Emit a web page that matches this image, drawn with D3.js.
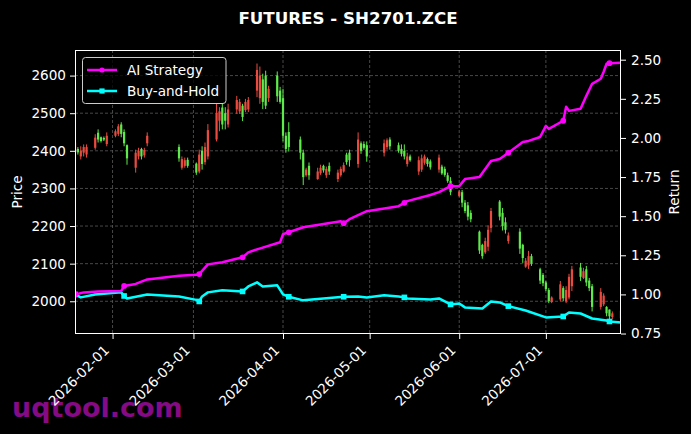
<!DOCTYPE html>
<html><head><meta charset="utf-8">
<script src="https://cdn.jsdelivr.net/npm/d3@7/dist/d3.min.js"></script>
<style>body{margin:0;background:#000;} svg{display:block;} text{font-family:"DejaVu Sans",sans-serif;}</style>
</head><body><svg id="c" width="691" height="434"></svg>
<script>
const chartTitle = "FUTURES - SH2701.ZCE";
const watermark = "uqtool.com";

// trading days (candles)
const tradeDates = [
"2026-01-19","2026-01-20","2026-01-21","2026-01-22","2026-01-23",
"2026-01-26","2026-01-27","2026-01-28","2026-01-29","2026-01-30",
"2026-02-02","2026-02-03","2026-02-04","2026-02-05","2026-02-06",
"2026-02-09","2026-02-10","2026-02-11","2026-02-12","2026-02-13",
"2026-02-24","2026-02-25","2026-02-26","2026-02-27",
"2026-03-02","2026-03-03","2026-03-04","2026-03-05","2026-03-06",
"2026-03-09","2026-03-10","2026-03-11","2026-03-12","2026-03-13",
"2026-03-16","2026-03-17","2026-03-18","2026-03-19","2026-03-20",
"2026-03-23","2026-03-24","2026-03-25","2026-03-26","2026-03-27",
"2026-03-30","2026-03-31","2026-04-01","2026-04-02","2026-04-03",
"2026-04-07","2026-04-08","2026-04-09","2026-04-10",
"2026-04-13","2026-04-14","2026-04-15","2026-04-16","2026-04-17",
"2026-04-20","2026-04-21","2026-04-22","2026-04-23","2026-04-24",
"2026-04-27","2026-04-28","2026-04-29","2026-04-30",
"2026-05-06","2026-05-07","2026-05-08",
"2026-05-11","2026-05-12","2026-05-13","2026-05-14","2026-05-15",
"2026-05-18","2026-05-19","2026-05-20","2026-05-21","2026-05-22",
"2026-05-25","2026-05-26","2026-05-27","2026-05-28","2026-05-29",
"2026-06-01","2026-06-02","2026-06-03","2026-06-04","2026-06-05",
"2026-06-08","2026-06-09","2026-06-10","2026-06-11","2026-06-12",
"2026-06-15","2026-06-16","2026-06-17","2026-06-18",
"2026-06-22","2026-06-23","2026-06-24","2026-06-25","2026-06-26",
"2026-06-29","2026-06-30","2026-07-01","2026-07-02","2026-07-03",
"2026-07-06","2026-07-07","2026-07-08","2026-07-09","2026-07-10",
"2026-07-13","2026-07-14","2026-07-15","2026-07-16","2026-07-17",
"2026-07-20","2026-07-21","2026-07-22","2026-07-23","2026-07-24",
"2026-07-27"];

const openP = [
2405,2405,2385,2395,2390, 2408,2448,2436,2434,2418, 2440,2445,2470,2450,2415,
2355,2385,2405,2388,2420, 2410,2355,2360,2376, 2366,2345,2400,2370,2385,
2430,2480,2515,2500,2470, 2510,2505,2520,2508,2510, 2560,2540,2590,2600,2540,
2600,2560,2540,2440,2450, 2430,2395,2335,2360, 2325,2340,2360,2335,2360,
2325,2335,2345,2390,2395, 2365,2420,2418,2415, 2395,2410,2430,
2415,2405,2400,2365,2385, 2345,2350,2368,2378,2372, 2350,2358,2352,2335,2320,
2280,2290,2262,2255,2235, 2185,2150,2130,2145,2195, 2265,2235,2210,2160,
2185,2150,2092,2095,2120, 2085,2070,2050,2030,1998, 2005,2035,2000,2010,2040,
2090,2062,2085,2055,2040, 1985,1992,1985,1978,1958, 1975];
const highP = [
2430,2410,2412,2417,2417, 2444,2457,2438,2438,2449, 2457,2471,2476,2457,2417,
2403,2408,2408,2408,2449, 2417,2385,2382,2382, 2369,2403,2412,2422,2471,
2525,2516,2525,2516,2525, 2546,2538,2525,2538,2543, 2632,2624,2605,2613,2573,
2611,2570,2565,2449,2476, 2438,2403,2355,2369, 2355,2363,2363,2358,2369,
2350,2358,2369,2395,2403, 2449,2425,2425,2425, 2430,2433,2436,
2422,2417,2417,2395,2390, 2385,2390,2390,2382,2377, 2390,2363,2358,2342,2330,
2296,2296,2269,2264,2242, 2188,2153,2169,2202,2248, 2269,2248,2223,2183,
2194,2153,2115,2134,2126, 2089,2075,2054,2035,2013, 2054,2040,2040,2073,2094,
2102,2089,2094,2062,2046, 2035,2021,1987,1978,1973, 1978];
const lowP = [
2398,2390,2377,2385,2382, 2403,2422,2422,2426,2412, 2436,2439,2436,2412,2363,
2342,2377,2377,2382,2412, 2371,2350,2355,2355, 2336,2340,2350,2363,2377,
2425,2452,2457,2457,2462, 2498,2498,2479,2503,2503, 2543,2525,2511,2511,2530,
2530,2525,2425,2395,2398, 2377,2309,2331,2323, 2323,2336,2342,2328,2336,
2317,2331,2342,2363,2358, 2355,2392,2403,2371, 2385,2403,2403,
2395,2385,2377,2358,2371, 2336,2344,2363,2358,2350, 2342,2336,2331,2315,2282,
2277,2250,2234,2215,2210, 2126,2113,2126,2134,2183, 2215,2188,2180,2153,
2126,2102,2089,2086,2094, 2046,2040,2027,1995,1995, 2000,2000,1995,2005,2027,
2054,2059,2040,2027,1973, 1978,1987,1960,1952,1952, 1946];
const closeP = [
2422,2396,2400,2410,2410, 2435,2430,2426,2430,2440, 2452,2465,2445,2420,2380,
2395,2400,2385,2402,2440, 2380,2378,2375,2360, 2342,2390,2365,2410,2455,
2500,2505,2470,2480,2510, 2535,2530,2490,2530,2535, 2615,2600,2530,2520,2565,
2545,2530,2440,2405,2410, 2395,2330,2350,2335, 2345,2355,2348,2352,2345,
2342,2352,2362,2370,2375, 2430,2400,2408,2385, 2420,2428,2412,
2400,2392,2385,2385,2375, 2375,2380,2385,2365,2356, 2382,2340,2336,2320,2290,
2292,2262,2240,2225,2218, 2135,2120,2160,2190,2240, 2225,2200,2190,2175,
2140,2115,2108,2120,2100, 2055,2048,2032,2000,2010, 2045,2008,2030,2065,2085,
2065,2080,2050,2035,1985, 2025,2015,1968,1960,1968, 1955];

// AI Strategy cumulative return
const aiDates = ["2026-01-19","2026-01-22","2026-01-27","2026-02-04","2026-02-05","2026-02-09","2026-02-13","2026-02-24",
"2026-03-02","2026-03-03","2026-03-06","2026-03-11","2026-03-18","2026-03-20","2026-03-23","2026-03-31","2026-04-01",
"2026-04-03","2026-04-08","2026-04-21","2026-04-22","2026-04-24","2026-04-30","2026-05-11","2026-05-13","2026-05-14",
"2026-05-22","2026-05-25","2026-05-29","2026-06-01","2026-06-03","2026-06-08","2026-06-12","2026-06-15","2026-06-18",
"2026-06-23","2026-06-25","2026-06-29","2026-07-01","2026-07-02","2026-07-07","2026-07-08","2026-07-09","2026-07-13",
"2026-07-15","2026-07-17","2026-07-20","2026-07-21","2026-07-22","2026-07-23","2026-07-27"];
const aiValues = [1.000,1.013,1.019,1.022,1.054,1.067,1.096,1.119,
1.125,1.130,1.192,1.205,1.237,1.269,1.288,1.333,1.385,
1.397,1.429,1.468,1.455,1.481,1.532,1.564,1.585,1.596,
1.635,1.654,1.692,1.692,1.737,1.750,1.853,1.865,1.905,
1.974,1.981,2.006,2.077,2.058,2.110,2.199,2.173,2.186,
2.269,2.346,2.378,2.423,2.474,2.478,2.481];

// Buy-and-Hold cumulative return
const bhDates = ["2026-01-19","2026-01-21","2026-01-26","2026-02-04","2026-02-05","2026-02-06","2026-02-13","2026-02-24",
"2026-03-02","2026-03-03","2026-03-04","2026-03-06","2026-03-11","2026-03-18","2026-03-20","2026-03-23","2026-03-25",
"2026-03-30","2026-04-01","2026-04-03","2026-04-08","2026-04-22","2026-04-27","2026-04-30","2026-05-06","2026-05-11",
"2026-05-13","2026-05-14","2026-05-22","2026-05-25","2026-05-29","2026-06-01","2026-06-03","2026-06-09","2026-06-12",
"2026-06-15","2026-06-18","2026-06-24","2026-06-25","2026-07-01","2026-07-07","2026-07-09","2026-07-13","2026-07-17",
"2026-07-22","2026-07-23","2026-07-27"];
const bhValues = [1.000,0.981,1.000,1.013,0.990,0.974,1.000,0.987,
0.965,0.955,0.987,1.013,1.026,1.019,1.051,1.077,1.051,
1.058,1.000,0.985,0.962,0.985,0.987,0.981,0.994,0.987,
0.981,0.974,0.968,0.974,0.936,0.942,0.917,0.910,0.955,
0.949,0.925,0.897,0.891,0.853,0.859,0.885,0.878,0.846,
0.833,0.827,0.821];

const markerDates = ["2026-01-19","2026-02-05","2026-03-03","2026-03-18","2026-04-03","2026-04-22","2026-05-13","2026-05-29","2026-06-18","2026-07-07","2026-07-23"];

const priceTicks = [2000,2100,2200,2300,2400,2500,2600];
const returnTicks = [0.75,1.00,1.25,1.50,1.75,2.00,2.25,2.50];
const dateTicks = ["2026-02-01","2026-03-01","2026-04-01","2026-05-01","2026-06-01","2026-07-01"];
const seriesNames = ["AI Strategy","Buy-and-Hold"];
const seriesColors = ["#ff00ff","#00ffff"];

// ---------- drawing ----------
const parse = d3.utcParse("%Y-%m-%d");
const L = 75, R = 621, T = 50, B = 334;
const svg = d3.select("#c");
svg.append("rect").attr("width",691).attr("height",434).attr("fill","#000");

const x = d3.scaleUtc().domain([parse("2026-01-19"), parse("2026-07-27")]).range([L,R]);
const yP = d3.scaleLinear().domain([1913,2668]).range([B,T]);
const yR = d3.scaleLinear().domain([0.747,2.562]).range([B,T]);

// watermark
svg.append("text").attr("x",12).attr("y",417).attr("fill","#850a85")
  .attr("font-size",27).attr("font-weight","bold").text(watermark);

// grid
const grid = svg.append("g");
grid.selectAll(".gx").data(dateTicks).join("line")
  .attr("x1",d=>x(parse(d))).attr("x2",d=>x(parse(d))).attr("y1",T).attr("y2",B)
  .attr("stroke","#5a5a5a").attr("stroke-width",0.8).attr("stroke-dasharray","3,2");
grid.selectAll(".gy").data(priceTicks).join("line")
  .attr("x1",L).attr("x2",R).attr("y1",d=>yP(d)).attr("y2",d=>yP(d))
  .attr("stroke","#5a5a5a").attr("stroke-width",0.8).attr("stroke-dasharray","3,2");

svg.append("clipPath").attr("id","clip").append("rect")
  .attr("x",L).attr("y",T).attr("width",R-L).attr("height",B-T);
const plot = svg.append("g").attr("clip-path","url(#clip)");

// candles
const candles = tradeDates.map((d,i)=>({d:parse(d),o:openP[i],h:highP[i],l:lowP[i],c:closeP[i]}));
const upC = "#eb4b3f", dnC = "#5fea4b";
const cg = plot.append("g");
cg.selectAll("line").data(candles).join("line")
  .attr("x1",d=>x(d.d)).attr("x2",d=>x(d.d)).attr("y1",d=>yP(d.h)).attr("y2",d=>yP(d.l))
  .attr("stroke",d=>d.c>=d.o?upC:dnC).attr("stroke-width",1);
cg.selectAll("rect").data(candles).join("rect")
  .attr("x",d=>x(d.d)-1.1).attr("width",2.2)
  .attr("y",d=>yP(Math.max(d.o,d.c))).attr("height",d=>Math.max(1,Math.abs(yP(d.o)-yP(d.c))))
  .attr("fill",d=>d.c>=d.o?upC:dnC);

// lines
const aiData = aiDates.map((d,i)=>({d:parse(d),v:aiValues[i],k:d}));
const bhData = bhDates.map((d,i)=>({d:parse(d),v:bhValues[i],k:d}));
const line = d3.line().x(d=>x(d.d)).y(d=>yR(d.v));
[[bhData,1],[aiData,0]].forEach(([data,si])=>{
  plot.append("path").datum(data).attr("d",line).attr("fill","none")
    .attr("stroke",seriesColors[si]).attr("stroke-width",2.5).attr("stroke-linejoin","round");
  const m = data.filter(p=>markerDates.includes(p.k));
  if(si===0){
    plot.selectAll(null).data(m).join("circle").attr("cx",d=>x(d.d)).attr("cy",d=>yR(d.v))
      .attr("r",2.9).attr("fill",seriesColors[si]);
  } else {
    plot.selectAll(null).data(m).join("rect").attr("x",d=>x(d.d)-2.8).attr("y",d=>yR(d.v)-2.8)
      .attr("width",5.6).attr("height",5.6).attr("fill",seriesColors[si]);
  }
});

// spines
svg.append("rect").attr("x",L+0.5).attr("y",T+0.5).attr("width",R-L-1).attr("height",B-T-1)
  .attr("fill","none").attr("stroke","#fff").attr("stroke-width",1);

// axes
const fs = 13.6;
function styleAxis(g){
  g.select(".domain").remove();
  g.selectAll(".tick line").attr("stroke","#fff");
  g.selectAll(".tick text").attr("fill","#fff").attr("font-size",fs).attr("font-family","DejaVu Sans");
}
const xa = svg.append("g").attr("transform",`translate(0,${B})`)
  .call(d3.axisBottom(x).tickValues(dateTicks.map(parse)).tickFormat(d3.utcFormat("%Y-%m-%d")).tickSize(5));
styleAxis(xa);
xa.selectAll(".tick text").attr("text-anchor","end").attr("dy",null).attr("y",null)
  .attr("transform","translate(-3,17) rotate(-45)");

const ya = svg.append("g").attr("transform",`translate(${L},0)`)
  .call(d3.axisLeft(yP).tickValues(priceTicks).tickFormat(d3.format("d")).tickSize(5).tickPadding(4));
styleAxis(ya);
const yb = svg.append("g").attr("transform",`translate(${R},0)`)
  .call(d3.axisRight(yR).tickValues(returnTicks).tickFormat(d3.format(".2f")).tickSize(5).tickPadding(5));
styleAxis(yb);

// axis labels
svg.append("text").attr("transform",`translate(22,${(T+B)/2}) rotate(-90)`).attr("text-anchor","middle")
  .attr("fill","#fff").attr("font-size",fs).text("Price");
svg.append("text").attr("transform",`translate(679,${(T+B)/2}) rotate(-90)`).attr("text-anchor","middle")
  .attr("fill","#fff").attr("font-size",fs).text("Return");

// title
svg.append("text").attr("x",348).attr("y",24).attr("text-anchor","middle").attr("fill","#fff")
  .attr("font-size",16.7).attr("font-weight","bold").text(chartTitle);

// legend
const lg = svg.append("g");
lg.append("rect").attr("x",82.5).attr("y",57.5).attr("width",143.5).attr("height",46).attr("rx",3)
  .attr("fill","#000").attr("fill-opacity",0.8).attr("stroke","#cccccc").attr("stroke-width",1);
seriesNames.forEach((n,i)=>{
  const yy = 70 + i*21;
  lg.append("line").attr("x1",87).attr("x2",117).attr("y1",yy).attr("y2",yy)
    .attr("stroke",seriesColors[i]).attr("stroke-width",2.5);
  if(i===0) lg.append("circle").attr("cx",102).attr("cy",yy).attr("r",2.6).attr("fill",seriesColors[i]);
  else lg.append("rect").attr("x",99.4).attr("y",yy-2.6).attr("width",5.2).attr("height",5.2).attr("fill",seriesColors[i]);
  lg.append("text").attr("x",127).attr("y",yy+5).attr("fill","#fff").attr("font-size",fs).text(n);
});
</script></body></html>
